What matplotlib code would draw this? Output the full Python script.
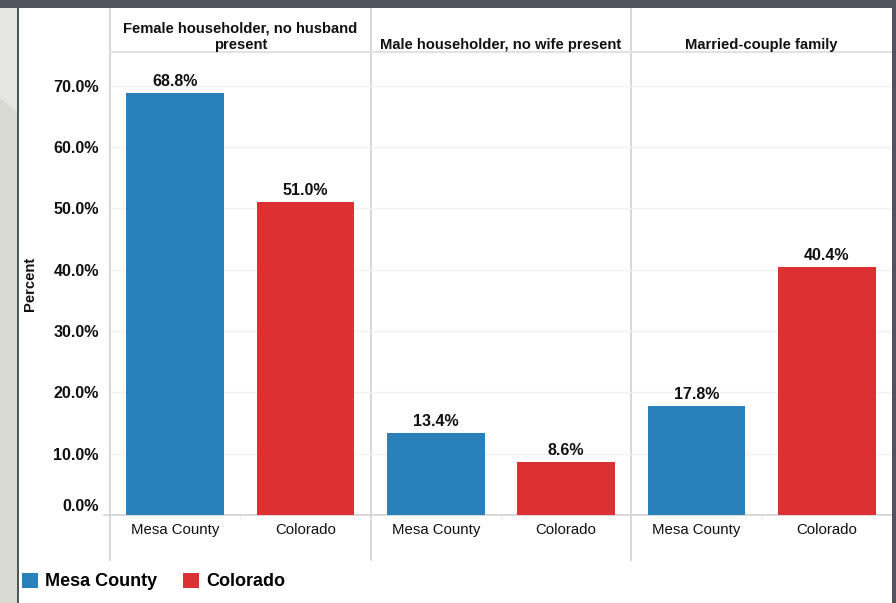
import matplotlib
matplotlib.use("Agg")
import matplotlib.pyplot as plt
import matplotlib.transforms as mtransforms
from matplotlib.patches import Rectangle, Polygon, Patch

plt.rcParams['font.family'] = ['Liberation Sans', 'DejaVu Sans']

groups = ["Female householder, no husband\npresent",
          "Male householder, no wife present",
          "Married-couple family"]
series = ["Mesa County", "Colorado"]
mesa = [68.8, 13.4, 17.8]
colorado = [51.0, 8.6, 40.4]
yticks = [0, 10, 20, 30, 40, 50, 60, 70]
ytick_labels = ["0.0%", "10.0%", "20.0%", "30.0%", "40.0%", "50.0%", "60.0%", "70.0%"]

BLUE = "#2a80ba"
RED = "#dc3033"
DARK = "#50555c"
TXT = "#111111"

W, H = 896, 603
fig = plt.figure(figsize=(W / 100, H / 100), dpi=100, facecolor="white")

# frame decoration
fig.patches.append(Rectangle((0, 0), 17 / W, 1, transform=fig.transFigure,
                             facecolor="#dadad5", edgecolor="none", zorder=0))
fig.patches.append(Polygon([(0, 1), (17 / W, 1), (17 / W, 1 - 112 / H), (0, 1 - 98 / H)],
                           closed=True, transform=fig.transFigure,
                           facecolor="#e6e6e2", edgecolor="none", zorder=0))
fig.patches.append(Rectangle((16.5 / W, 0), 2.5 / W, 1, transform=fig.transFigure,
                             facecolor=DARK, edgecolor="none", zorder=1))
fig.patches.append(Rectangle((0, 1 - 8 / H), 1, 8 / H, transform=fig.transFigure,
                             facecolor=DARK, edgecolor="none", zorder=1))
fig.patches.append(Rectangle((892 / W, 0), 4 / W, 1, transform=fig.transFigure,
                             facecolor=DARK, edgecolor="none", zorder=1))

ax_l, ax_r, ax_t, ax_b = 110, 892, 52, 515
ax = fig.add_axes([ax_l / W, 1 - ax_b / H, (ax_r - ax_l) / W, (ax_b - ax_t) / H])
ax.set_facecolor("white")

n = len(groups)
xm = [2 * i + 0.5 for i in range(n)]
xc = [2 * i + 1.5 for i in range(n)]
b1 = ax.bar(xm, mesa, width=0.75, color=BLUE, zorder=3)
b2 = ax.bar(xc, colorado, width=0.75, color=RED, zorder=3)
for bars in (b1, b2):
    ax.bar_label(bars, fmt="%.1f%%", padding=3, fontsize=11.5, fontweight="bold",
                 color=TXT)

ax.set_xlim(0, 2 * n)
ax.set_ylim(0, 75.5)
ax.set_yticks(yticks)
ax.set_yticklabels(ytick_labels, fontsize=11.6, fontweight="bold", color=TXT)
ax.tick_params(axis="y", length=0, pad=8)
ax.grid(axis="y", color="#f0f0f0", linewidth=1, zorder=0)
lab0 = ax.get_yticklabels()[0]
lab0.set_transform(lab0.get_transform() + mtransforms.ScaledTranslation(0, 10 / 100, fig.dpi_scale_trans))

ax.set_xticks(xm + xc)
ax.set_xticklabels([series[0]] * n + [series[1]] * n, fontsize=10.8, color=TXT)
ax.tick_params(axis="x", length=0, pad=6)
ax.set_xticks([2 * i + 1 for i in range(n)], minor=True)
ax.tick_params(axis="x", which="minor", length=3, color="#e6e6e6")

ax.set_ylabel("Percent", fontsize=10.6, fontweight="bold", color=TXT)
ax.yaxis.set_label_coords((37 - ax_l) / (ax_r - ax_l), 0.5)

for s in ("left", "right"):
    ax.spines[s].set_visible(False)
ax.spines["top"].set_color("#e2e2e2")
ax.spines["top"].set_linewidth(1.5)
ax.spines["bottom"].set_color("#d2d2d2")
ax.spines["bottom"].set_linewidth(1.2)
ax.plot([-6 / (ax_r - ax_l), 0], [0, 0], transform=ax.transAxes, color="#d2d2d2",
        linewidth=1.2, clip_on=False)

ph = ax_b - ax_t
for i in range(n):
    ax.axvline(2 * i, ymin=(ax_b - 560) / ph, ymax=(ax_b - 8) / ph, color="#d4d4d4",
               linewidth=1.3, clip_on=False, zorder=1)
    ax.text(2 * i + 1, (ax_b - 52.5) / ph, groups[i], transform=ax.get_xaxis_transform(),
            ha="center", va="bottom", fontsize=10.6, fontweight="bold", color=TXT,
            linespacing=1.3)

handles = [Patch(facecolor=BLUE, edgecolor="none"), Patch(facecolor=RED, edgecolor="none")]
fig.legend(handles, series, loc="lower left", bbox_to_anchor=(9 / W, 0), ncol=2,
           frameon=False, prop={"size": 13, "weight": "bold"}, handlelength=0.9,
           handleheight=0.9, handletextpad=0.4, columnspacing=1.4, borderaxespad=0.3)

fig.savefig("out.png", dpi=100, facecolor="white")
